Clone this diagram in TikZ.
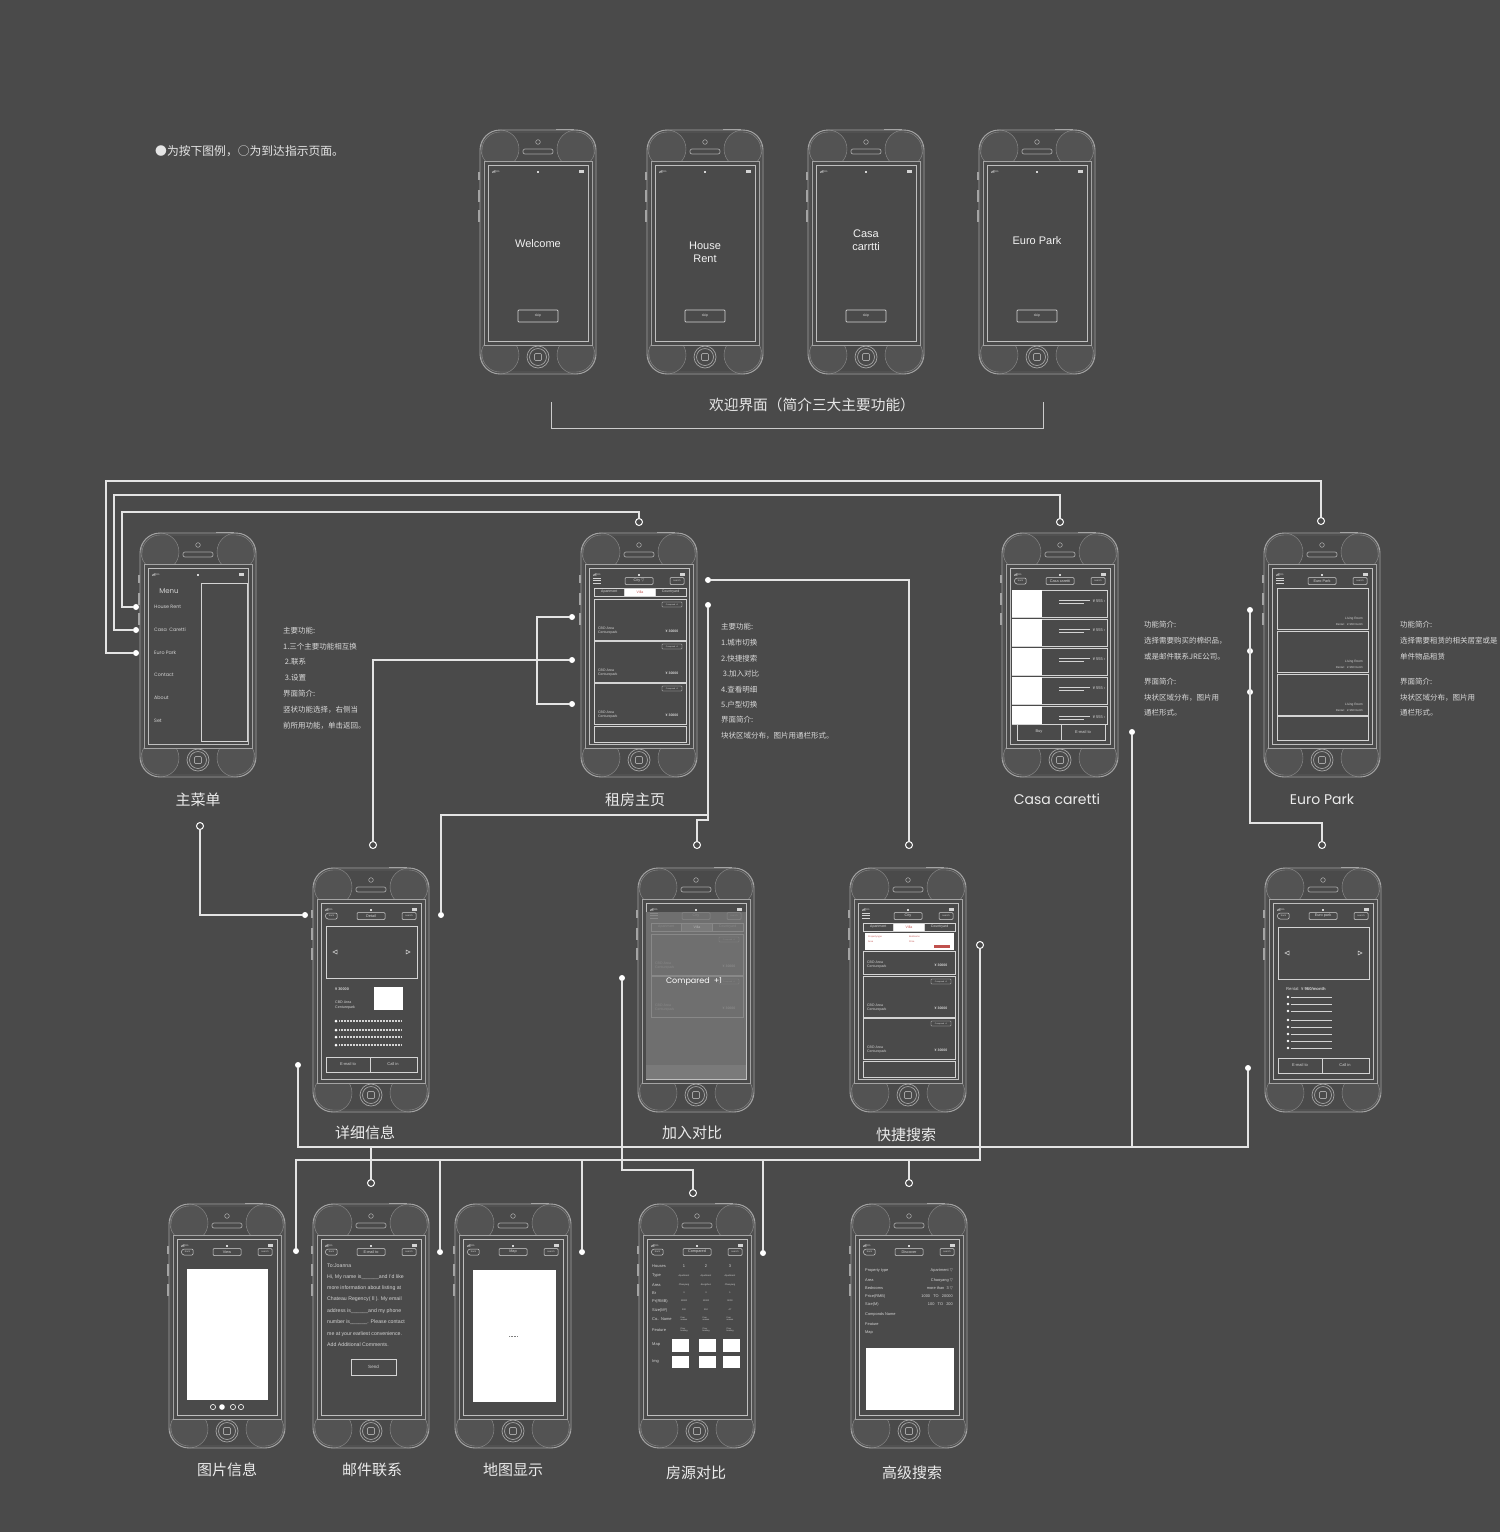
\documentclass[tikz,border=0pt]{standalone}
\usepackage{fontspec}
\setmainfont{Liberation Sans}
\newfontfamily\cjk{Noto Sans CJK SC}
\newfontfamily\geo{Poppins}
\newfontfamily\sym{DejaVu Sans}

\definecolor{bgc}{HTML}{4A4A4A}
\definecolor{wire}{HTML}{E4E4E4}
\definecolor{frame}{HTML}{A4A4A4}
\definecolor{pad}{HTML}{535353}
\definecolor{ui}{HTML}{D4D4D4}
\definecolor{dim}{HTML}{6F6F6F}
\definecolor{dimtwo}{HTML}{7A7A7A}
\definecolor{dimui}{HTML}{888888}
\definecolor{villa}{HTML}{C0504D}

\newcommand{\fs}[1]{\fontsize{#1}{\fpeval{1.2*#1}}\selectfont}

\tikzset{
  wire/.style={draw=wire, line width=1.1pt},
  press/.style={circle, fill=white, inner sep=0pt, minimum size=6pt},
  reach/.style={circle, draw=white, fill=bgc, line width=1pt, inner sep=0pt, minimum size=7pt},
  uibox/.style={draw=ui, line width=0.5pt},
  tiny/.style={text=ui, inner sep=0pt, font=\fs{3}},
  caption/.style={text=white!92!black, font=\cjk\fs{15}},
  note/.style={text=white!85!black, anchor=west, inner sep=0pt, font=\cjk\fs{7.5}},
}

% phone frame, local coordinates: 116 x 244, screen 8..108 / 35..211
\newcommand{\phonebody}{%
  \fill[pad] (20,19) circle (19) (96,19) circle (19) (20,225) circle (19) (96,225) circle (19);
  \draw[frame!75!bgc, line width=0.4pt] (20,19) circle (19) (96,19) circle (19) (20,225) circle (19) (96,225) circle (19);
  \draw[frame, line width=0.9pt, rounded corners=20pt] (0,0) rectangle (116,244);
  \draw[frame!70!bgc, line width=0.4pt, rounded corners=18pt] (2,2) rectangle (114,242);
  \fill[bgc] (4,31) rectangle (112,215);
  \draw[frame, line width=0.5pt] (4,31) rectangle (112,215);
  \draw[frame!70!white, line width=0.7pt] (8,35) rectangle (108,211);
  \draw[frame, line width=0.6pt] (58,12) circle (2.3);
  \draw[frame, line width=0.7pt, rounded corners=2pt] (43,19) rectangle (73,24);
  \draw[frame, line width=0.7pt] (58,227) circle (11) (58,227) circle (8.5);
  \draw[frame, line width=0.7pt, rounded corners=1pt] (54.5,223.5) rectangle (61.5,230.5);
  \draw[frame, line width=1.2pt] (-1,42) -- (-1,50) (-1,60) -- (-1,72) (-1,80) -- (-1,92) (76,-0.6) -- (94,-0.6);
  \fill[ui] (12,42.5) rectangle (12.8,41.6) (13.3,42.5) rectangle (14.1,40.8) (14.6,42.5) rectangle (15.4,40);
  \node[tiny, anchor=west, font=\fs{2.5}] at (16,41.3) {3G};
  \fill[ui] (57,42.5) rectangle (59,40.5);
  \fill[ui] (99,42.5) rectangle (104,40.3);
}
\newcommand{\titlebox}[1]{%
  \draw[uibox, rounded corners=1pt] (44,44.5) rectangle (72,51.5);
  \node[tiny, font=\fs{3.8}] at (58,48) {#1};
  \draw[uibox, rounded corners=1pt] (89,44.5) rectangle (103,51.5);
  \node[tiny, font=\fs{2.4}] at (96,48) {search};
}
\newcommand{\navbar}[1]{%
  \draw[uibox, rounded corners=1pt] (14,45) -- (24,45) -- (24,51) -- (14,51) -- (12,48) -- cycle;
  \node[tiny, font=\fs{2.4}] at (18.5,48) {back};
  \titlebox{#1}
}
\newcommand{\menunav}[1]{%
  \draw[ui, line width=0.6pt] (12,45) -- (20,45) (12,47.5) -- (20,47.5) (12,50) -- (20,50);
  \titlebox{#1}
}
\newcommand{\tabs}[2]{%
  \fill[#1] (43.7,55) rectangle (74.3,63);
  \draw[uibox] (13,55) rectangle (105,63) (43.7,55) -- (43.7,63) (74.3,55) -- (74.3,63);
  \node[tiny, font=\fs{3.5}] at (28.3,59) {Apartment};
  \node[tiny, font=\fs{3.5}, text=#2] at (59,59) {Villa};
  \node[tiny, font=\fs{3.5}] at (89.6,59) {Countryard};
}
\newcommand{\listcard}[1]{%
  \begin{scope}[shift={(0,#1)}]
    \draw[uibox] (13,0) rectangle (105,41);
    \draw[uibox, line width=0.35pt, rounded corners=0.6pt] (81,3) rectangle (101,8);
    \node[tiny, font=\fs{2}] at (91,5.5) {Compared +1};
    \node[tiny, anchor=west, align=left, font=\fs{3.5}] at (17,32) {CBD Area\\Centurepark};
    \node[tiny, font=\bfseries\fs{3.5}] at (91,32) {¥ 30000};
  \end{scope}
}
\newcommand{\casarow}[2]{%
  \begin{scope}[shift={(0,#1)}]
    \draw[uibox, line width=0.6pt] (10,0) rectangle (105,#2);
    \fill[white] (10,0) rectangle (40,#2);
    \draw[ui, line width=0.5pt] (57,10) -- (88,10) (57,13) -- (82,13);
    \node[tiny, font=\fs{4}] at (97,11.5) {¥ 555 ›};
  \end{scope}
}
\newcommand{\slider}[2]{%
  \draw[uibox, line width=0.7pt] (13,#1) rectangle (104,#2);
  \draw[ui, line width=0.5pt] (20,{(#1+#2)/2}) -- (24,{(#1+#2)/2-2}) -- (24,{(#1+#2)/2+2}) -- cycle
    (97,{(#1+#2)/2}) -- (93,{(#1+#2)/2-2}) -- (93,{(#1+#2)/2+2}) -- cycle;
}
\newcommand{\twobtn}[3]{%
  \draw[uibox, line width=0.7pt] (13,#1) rectangle (104,#2) (57,#1) -- (57,#2);
  \node[tiny, font=\fs{4}] at (35,{(#1+#2)/2}) {#3};
  \node[tiny, font=\fs{4}] at (80,{(#1+#2)/2}) {Call in};
}

\begin{document}
\begin{tikzpicture}[x=1pt, y=-1pt]
\fill[bgc] (0,0) rectangle (1500,1532);
\useasboundingbox (0,0) rectangle (1500,1532);

\node[font=\cjk\fs{11.8}, text=white!90!black, anchor=west, inner sep=0pt] (legend) at (155,151) {●为按下图例，○为到达指示页面。};

% welcome pages
\foreach \px/\ty/\txt in {480/114/Welcome, 647/122/{House\\Rent}, 808/110/{Casa\\carrtti}, 979/111/{Euro Park}} {
  \begin{scope}[shift={(\px,130)}]
    \phonebody
    \node[text=white!95!black, font=\fs{11}, align=center] (welcome\px) at (58,\ty) {\txt};
    \draw[uibox, line width=0.7pt, rounded corners=0.8pt] (38,180) rectangle (78,192);
    \node[tiny, font=\fs{3.5}] (skip\px) at (58,186) {skip};
  \end{scope}
}
\draw[wire, draw=white!80!black, line width=1pt] (551,402) |- (1043,428) -- (1043,402);
\node[font=\cjk\fs{14.7}, text=white!90!black] (welcomeCap) at (812,405) {欢迎界面（简介三大主要功能）};

% main menu
\begin{scope}[shift={(140,533)}]
  \phonebody
  \node[text=ui, font=\geo\fs{7}] (menuTitle) at (29,58) {Menu};
  \foreach \yy/\item in {74/House Rent, 97/Casa\ \ Caretti, 120/Euro Park, 142/Contact, 165/About, 188/Set}
    \node[tiny, anchor=west, font=\geo\fs{4.8}] at (14,\yy) {\item};
  \draw[ui, line width=0.9pt] (61,50) rectangle (107,208);
\end{scope}

% rent home
\begin{scope}[shift={(581,533)}]
  \phonebody
  \menunav{City {\sym▽}}
  \tabs{white}{villa}
  \listcard{66} \listcard{108} \listcard{150}
  \draw[uibox] (13,193) rectangle (105,209);
\end{scope}

% casa caretti
\begin{scope}[shift={(1002,533)}]
  \phonebody
  \navbar{Casa caretti}
  \foreach \ry in {57,86,115,144} {\casarow{\ry}{27}}
  \casarow{173}{18}
  \fill[bgc] (15,191) rectangle (103,207);
  \draw[uibox, line width=0.7pt] (15,191) rectangle (103,207) (59,191) -- (59,207);
  \node[tiny, font=\fs{4}] at (37,199) {Buy};
  \node[tiny, font=\fs{4}] at (81,199) {E-mail to};
\end{scope}

% euro park
\begin{scope}[shift={(1264,533)}]
  \phonebody
  \menunav{Euro Park}
  \foreach \cy in {55,98,141} {
    \draw[uibox, line width=0.7pt] (13,\cy) rectangle (104,\cy+41);
    \node[tiny, anchor=east, font=\fs{3.2}] at (99,\cy+31) {Living Room};
    \node[tiny, anchor=east, font=\fs{2.8}] at (99,\cy+36) {Rental: \ \ ¥ 960/month};
  }
  \draw[uibox, line width=0.7pt] (13,183) rectangle (104,207);
\end{scope}

% detail
\begin{scope}[shift={(313,868)}]
  \phonebody
  \navbar{Detail}
  \slider{58}{110}
  \node[tiny, anchor=west, font=\bfseries\fs{3.8}] at (22,121) {¥ 30000};
  \node[tiny, anchor=west, align=left, font=\fs{3.6}] at (22,137) {CBD Area\\Centurepark};
  \fill[white] (61,119) rectangle (90,142);
  \foreach \by in {153,162,169,177} {
    \fill[white] (23,\by) circle (1.5);
    \draw[ui, line width=1.1pt, dash pattern=on 0.9pt off 0.6pt] (26,\by) -- (88,\by);
  }
  \twobtn{189}{204}{E-mail to}
\end{scope}

% add to compare
\begin{scope}[shift={(638,868)}]
  \phonebody
  \fill[dim] (8.4,44) rectangle (107.6,210.6);
  \colorlet{ui}{dimui}
  \menunav{City}
  \tabs{dimtwo}{dimui!60!white}
  \listcard{66} \listcard{108}
  \fill[dimtwo] (8.4,197) rectangle (107.6,210.6);
  \node[text=white, font=\geo\fs{8}] (addMsg) at (56,114) {Compared \ +1};
\end{scope}

% quick search
\begin{scope}[shift={(850,868)}]
  \phonebody
  \menunav{City}
  \tabs{white}{villa}
  \fill[white] (15,65) rectangle (104,82);
  \node[tiny, text=villa, anchor=west, font=\fs{2.3}] at (18,69) {Property type};
  \node[tiny, text=villa, anchor=west, font=\fs{2.3}] at (59,69) {Bedrooms};
  \node[tiny, text=villa, anchor=west, font=\fs{2.3}] at (18,74) {Area};
  \node[tiny, text=villa, anchor=west, font=\fs{2.3}] at (59,74) {Price};
  \fill[villa] (84,77) rectangle (100,80);
  \draw[uibox] (13,83) rectangle (105,106);
  \node[tiny, anchor=west, align=left, font=\fs{3.5}] at (17,97) {CBD Area\\Centurepark};
  \node[tiny, font=\bfseries\fs{3.5}] at (91,97) {¥ 30000};
  \listcard{108} \listcard{150}
  \draw[uibox] (13,193) rectangle (105,209);
\end{scope}

% euro park detail
\begin{scope}[shift={(1265,868)}]
  \phonebody
  \navbar{Euro park}
  \slider{59}{111}
  \node[tiny, anchor=west, font=\fs{4.2}] at (21,121) {Rental: ¥ \textbf{960/month}};
  \foreach \by in {129,136,143,152,159,166,173,180} {
    \fill[white] (23,\by) circle (1.4);
    \draw[ui, line width=0.6pt] (26,\by) -- (67,\by);
  }
  \twobtn{190}{205}{E-mail to}
\end{scope}

% picture view
\begin{scope}[shift={(169,1204)}]
  \phonebody
  \navbar{View}
  \fill[white] (18,65) rectangle (99,196);
  \foreach \dx in {44,64,72} \draw[white, line width=0.6pt] (\dx,203) circle (2.6);
  \fill[white] (53,203) circle (2.8);
\end{scope}

% mail
\begin{scope}[shift={(313,1204)}]
  \phonebody
  \navbar{E-mail to}
  \foreach \yy/\line in {62/{To:Joanna}, 73/{Hi, My name is\_\_\_\_\_\_and I'd like}, 84/{more information about listing at},
      95/{Chateau Regency({\cjk Ⅱ}). My email}, 107/{address is\_\_\_\_\_\_and my phone}, 118/{number is\_\_\_\_\_\_. Please contact},
      130/{me at your earliest convenience.}, 141/{Add Additional Comments.}}
    \node[tiny, anchor=west, font=\fs{5.2}] at (14,\yy) {\line};
  \draw[uibox, line width=0.7pt] (38,155) rectangle (83,171);
  \node[tiny, font=\fs{4.5}] at (60.5,163) {Send};
\end{scope}

% map
\begin{scope}[shift={(455,1204)}]
  \phonebody
  \navbar{Map}
  \fill[white] (18,66) rectangle (101,198);
  \draw[gray, line width=0.6pt, dash pattern=on 1pt off 0.6pt] (54,132) -- (63,132);
\end{scope}

% compare table
\begin{scope}[shift={(639,1204)}]
  \phonebody
  \navbar{Compared}
  \foreach \yy/\lab in {62/Houses, 72/Type, 81/Area, 89/Br, 97/Pr(RMB), 106/Size(M²), 115/Co.. Name, 126/Feature, 141/Map, 158/Img}
    \node[tiny, anchor=west, font=\fs{4}] at (13,\yy) {\lab};
  \foreach \cx/\n/\ar/\br/\pr/\sz in {45/1/Chaoyang/3/13000/100, 67/2/dongchen/3/11000/110, 91/3/Chaoyang/1/9000/47} {
    \node[tiny, font=\fs{4}] at (\cx,62) {\n};
    \node[tiny, font=\fs{2.3}] at (\cx,72) {Apartment};
    \node[tiny, font=\fs{2.3}] at (\cx,81) {\ar};
    \node[tiny, font=\fs{2.3}] at (\cx,89) {\br};
    \node[tiny, font=\fs{2.3}] at (\cx,97) {\pr};
    \node[tiny, font=\fs{2.3}] at (\cx,106) {\sz};
    \node[tiny, font=\fs{2.1}, align=left] at (\cx,115) {Four\\season};
    \node[tiny, font=\fs{2.1}, align=left] at (\cx,126) {Floor\\heating};
  }
  \foreach \bx in {33,60,84} {
    \fill[white] (\bx,135) rectangle (\bx+17,148);
    \fill[white] (\bx,152) rectangle (\bx+17,164);
  }
\end{scope}

% advanced search
\begin{scope}[shift={(851,1204)}]
  \phonebody
  \navbar{Discover}
  \foreach \yy/\lab in {67/Property type, 76/Area, 84/Bedrooms, 92/Price(RMB), 100/Size(M), 110/Componds Name, 120/Feature, 129/Map}
    \node[tiny, anchor=west, font=\fs{3.9}] at (14,\yy) {\lab};
  \foreach \yy/\val in {67/{Apartment {\sym▽}}, 76/{Chaoyang {\sym▽}}, 84/{more than \ 3 {\sym▽}}, 92/{1000 \ \ TO \ \ 20000}, 100/{100 \ \ TO \ \ 200}}
    \node[tiny, anchor=east, font=\fs{3.9}] at (102,\yy) {\val};
  \fill[white] (15,144) rectangle (103,206);
\end{scope}

% captions
\foreach \cx/\cy/\txt/\nm in {198/800/主菜单/capMenu, 635/800/租房主页/capRent, 365/1133/详细信息/capDetail,
    692/1133/加入对比/capAdd, 906/1135/快捷搜索/capQuick, 227/1470/图片信息/capView, 372/1470/邮件联系/capMail,
    513/1470/地图显示/capMap, 696/1473/房源对比/capCompare, 912/1473/高级搜索/capAdv}
  \node[caption] (\nm) at (\cx,\cy) {\txt};
\node[caption, font=\geo\fs{14}] (capCasa) at (1057,799) {Casa caretti};
\node[caption, font=\geo\fs{14}] (capEuro) at (1322,799) {Euro Park};

% notes
\foreach \yy/\txt [count=\i] in {631/主要功能:, 647/1.三个主要功能相互换, 662/\ 2.联系, 678/\ 3.设置, 694/界面简介:, 710/竖状功能选择，右侧当, 726/前所用功能，单击返回。}
  \node[note] (menuNote\i) at (283,\yy) {\txt};
\foreach \yy/\txt [count=\i] in {627/主要功能:, 643/1.城市切换, 659/2.快捷搜索, 674/\ 3.加入对比, 690/4.查看明细, 705/5.户型切换, 720/界面简介:, 736/块状区域分布，图片用通栏形式。}
  \node[note] (rentNote\i) at (721,\yy) {\txt};
\foreach \yy/\txt [count=\i] in {625/功能简介:, 641/选择需要购买的棉织品，, 657/或是邮件联系JRE公司。, 682/界面简介:, 698/块状区域分布，图片用, 713/通栏形式。}
  \node[note] (casaNote\i) at (1144,\yy) {\txt};
\foreach \yy/\txt [count=\i] in {625/功能简介:, 641/选择需要租赁的相关居室或是, 657/单件物品租赁, 682/界面简介:, 698/块状区域分布，图片用, 713/通栏形式。}
  \node[note] (euroNote\i) at (1400,\yy) {\txt};

% pressed points
\node[press] (mHouse) at (136,607) {};
\node[press] (mCasa) at (136,630) {};
\node[press] (mEuro) at (136,653) {};
\node[press] (zA) at (572,617) {};
\node[press] (zB) at (572,660) {};
\node[press] (zC) at (572,704) {};
\node[press] (zCity) at (708,580) {};
\node[press] (zDetail) at (708,605) {};
\node[press] (dLeft) at (305,915) {};
\node[press] (dRight) at (441,915) {};
\node[press] (dBottom) at (298,1065) {};
\node[press] (cAdd) at (622,978) {};
\node[press] (casaBuy) at (1132,732) {};
\node[press] (eA) at (1250,610) {};
\node[press] (eB) at (1250,651) {};
\node[press] (eC) at (1250,692) {};
\node[press] (edBottom) at (1248,1068) {};
\node[press] (pView) at (296,1251) {};
\node[press] (pMail) at (440,1252) {};
\node[press] (pMap) at (582,1252) {};
\node[press] (pCmp) at (763,1253) {};

% reached pages
\node[reach] (rZufang) at (639,522) {};
\node[reach] (rCasa) at (1060,522) {};
\node[reach] (rEuro) at (1321,521) {};
\node[reach] (rMenu) at (200,826) {};
\node[reach] (rDetail) at (373,845) {};
\node[reach] (rAdd) at (697,845) {};
\node[reach] (rQuick) at (909,845) {};
\node[reach] (rQuickSide) at (980,945) {};
\node[reach] (rEuroDetail) at (1322,845) {};
\node[reach] (rMail) at (371,1183) {};
\node[reach] (rCompare) at (693,1193) {};
\node[reach] (rAdv) at (909,1183) {};

% links
\draw[wire] (mHouse) -| (122,512) -| (rZufang);
\draw[wire] (mCasa) -| (114,495) -| (rCasa);
\draw[wire] (mEuro) -| (106,481) -| (rEuro);
\draw[wire] (zA) -- (537,617) -- (537,704) -- (zC);
\draw[wire] (zB) -| (rDetail);
\draw[wire] (zCity) -| (rQuick);
\coordinate (jDetail) at (708,815);
\draw[wire] (zDetail) -- (708,820) -| (rAdd);
\draw[wire] (jDetail) -| (dRight);
\draw[wire] (rMenu) |- (dLeft);
\coordinate (busA) at (1248,1147);
\draw[wire] (dBottom) |- (busA) -- (edBottom);
\draw[wire] (casaBuy) -- (casaBuy |- busA);
\draw[wire] (rMail) -- (rMail |- busA);
\coordinate (busB) at (980,1160);
\draw[wire] (pView) |- (busB) -- (rQuickSide);
\foreach \n in {pMail,pMap,pCmp,rAdv} \draw[wire] (\n) -- (\n |- busB);
\coordinate (jAdd) at (622,1170);
\draw[wire] (cAdd) -- (jAdd) -| (rCompare);
\draw[wire] (eA) -- (1250,823) -| (rEuroDetail);
\end{tikzpicture}
\end{document}
